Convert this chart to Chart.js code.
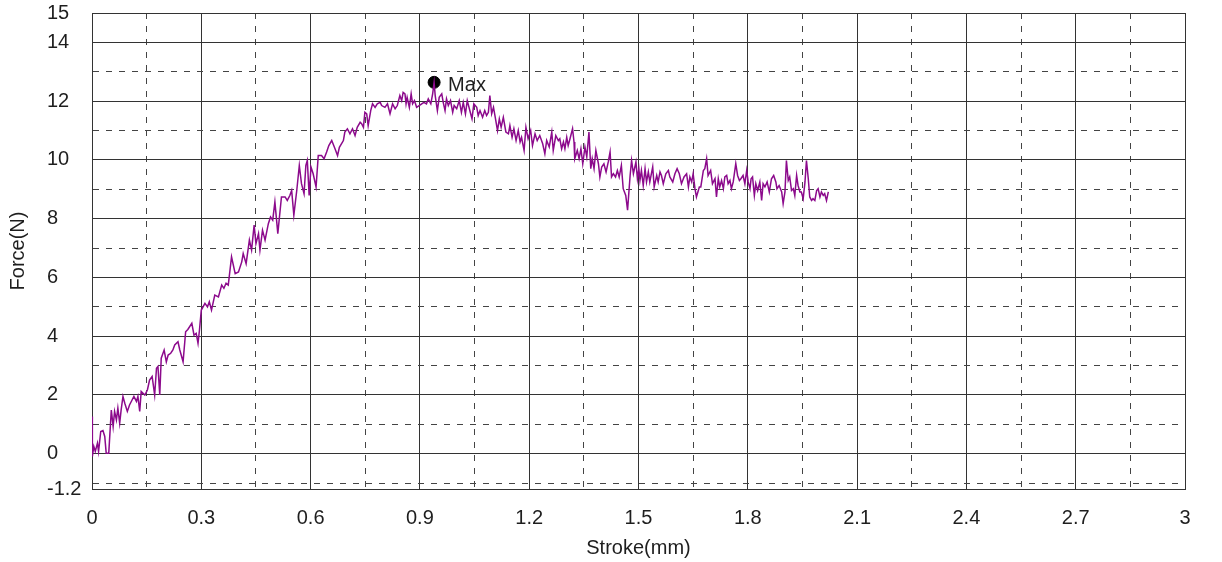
<!DOCTYPE html>
<html>
<head>
<meta charset="utf-8">
<title>Force vs Stroke</title>
<script src="https://cdn.jsdelivr.net/npm/chart.js@4/dist/chart.umd.min.js"></script>
<style>
  html, body { margin: 0; padding: 0; background: #fff; }
  #wrap { width: 1222px; height: 562px; position: relative; }
</style>
</head>
<body>
<div id="wrap"><canvas id="chartForce"></canvas></div>
<script>
const strokeMm = [
  0.000, 0.001, 0.005, 0.009, 0.015, 0.018, 0.024, 0.030, 0.035, 0.039,
  0.046, 0.053, 0.058, 0.062, 0.067, 0.071, 0.076, 0.080, 0.085, 0.090,
  0.097, 0.103, 0.110, 0.115, 0.122, 0.126, 0.131, 0.135, 0.145, 0.152,
  0.158, 0.165, 0.172, 0.177, 0.181, 0.186, 0.190, 0.198, 0.204, 0.209,
  0.216, 0.222, 0.227, 0.236, 0.241, 0.250, 0.257, 0.263, 0.274, 0.280,
  0.286, 0.291, 0.295, 0.300, 0.310, 0.317, 0.322, 0.328, 0.337, 0.347,
  0.356, 0.362, 0.368, 0.374, 0.383, 0.393, 0.402, 0.411, 0.415, 0.423,
  0.432, 0.438, 0.445, 0.450, 0.457, 0.461, 0.468, 0.475, 0.484, 0.490,
  0.496, 0.502, 0.510, 0.520, 0.530, 0.536, 0.543, 0.548, 0.554, 0.562,
  0.569, 0.575, 0.582, 0.587, 0.591, 0.596, 0.601, 0.607, 0.615, 0.621,
  0.630, 0.637, 0.644, 0.650, 0.658, 0.667, 0.674, 0.679, 0.690, 0.694,
  0.701, 0.708, 0.715, 0.722, 0.728, 0.736, 0.740, 0.745, 0.749, 0.754,
  0.758, 0.765, 0.770, 0.777, 0.783, 0.791, 0.795, 0.804, 0.811, 0.818,
  0.825, 0.832, 0.838, 0.845, 0.850, 0.854, 0.859, 0.862, 0.865, 0.871,
  0.876, 0.880, 0.885, 0.891, 0.898, 0.905, 0.911, 0.918, 0.923, 0.930,
  0.935, 0.939, 0.942, 0.948, 0.953, 0.960, 0.964, 0.969, 0.973, 0.978,
  0.984, 0.990, 0.994, 1.001, 1.008, 1.014, 1.019, 1.025, 1.030, 1.037,
  1.043, 1.048, 1.056, 1.060, 1.065, 1.072, 1.078, 1.083, 1.088, 1.092,
  1.097, 1.102, 1.106, 1.113, 1.118, 1.123, 1.129, 1.136, 1.143, 1.147,
  1.153, 1.158, 1.164, 1.170, 1.175, 1.179, 1.186, 1.191, 1.197, 1.204,
  1.209, 1.216, 1.222, 1.229, 1.237, 1.243, 1.248, 1.255, 1.262, 1.266,
  1.273, 1.280, 1.284, 1.289, 1.294, 1.298, 1.303, 1.307, 1.312, 1.319,
  1.323, 1.325, 1.332, 1.337, 1.342, 1.347, 1.353, 1.358, 1.364, 1.369,
  1.373, 1.378, 1.383, 1.390, 1.394, 1.399, 1.405, 1.411, 1.417, 1.422,
  1.426, 1.431, 1.437, 1.442, 1.447, 1.453, 1.458, 1.465, 1.470, 1.477,
  1.481, 1.486, 1.493, 1.497, 1.501, 1.504, 1.508, 1.513, 1.518, 1.522,
  1.527, 1.531, 1.539, 1.543, 1.550, 1.554, 1.559, 1.563, 1.568, 1.575,
  1.582, 1.586, 1.594, 1.600, 1.606, 1.612, 1.618, 1.625, 1.632, 1.637,
  1.641, 1.646, 1.650, 1.655, 1.659, 1.667, 1.671, 1.678, 1.682, 1.687,
  1.691, 1.698, 1.703, 1.710, 1.714, 1.719, 1.723, 1.728, 1.733, 1.737,
  1.742, 1.746, 1.751, 1.755, 1.760, 1.767, 1.772, 1.777, 1.781, 1.787,
  1.792, 1.797, 1.801, 1.806, 1.809, 1.813, 1.818, 1.822, 1.827, 1.833,
  1.838, 1.842, 1.847, 1.853, 1.859, 1.865, 1.871, 1.877, 1.880, 1.886,
  1.893, 1.897, 1.902, 1.906, 1.911, 1.915, 1.920, 1.925, 1.929, 1.934,
  1.938, 1.943, 1.947, 1.952, 1.957, 1.961, 1.966, 1.970, 1.975, 1.979,
  1.984, 1.989, 1.993, 1.998, 2.002, 2.007, 2.011, 2.016, 2.021
];
const forceN = [
  1.27, -0.09, 0.25, 0.08, 0.36, 0.08, 0.76, 0.79, 0.59, 0.02,
  0.02, 1.49, 0.93, 1.44, 1.15, 1.55, 1.04, 1.49, 1.95, 1.72,
  1.44, 1.66, 1.83, 1.95, 1.78, 1.95, 1.44, 2.12, 2.00, 2.17,
  2.51, 2.63, 2.00, 2.91, 2.97, 2.00, 3.25, 3.53, 3.13, 3.36,
  3.42, 3.53, 3.70, 3.81, 3.53, 3.13, 4.15, 4.23, 4.44, 4.04,
  4.10, 3.76, 4.21, 4.89, 5.12, 5.00, 5.17, 4.89, 5.40, 5.34,
  5.74, 5.63, 5.80, 5.74, 6.70, 6.13, 6.19, 6.53, 6.81, 6.47,
  7.27, 6.93, 7.78, 7.15, 7.49, 6.93, 7.61, 7.27, 7.83, 8.06,
  7.95, 8.57, 7.49, 8.74, 8.74, 8.62, 8.79, 8.96, 8.12, 8.96,
  9.81, 9.19, 8.85, 9.81, 9.98, 8.79, 9.76, 9.53, 9.08, 10.15,
  10.15, 10.04, 10.27, 10.49, 10.66, 10.38, 10.15, 10.43, 10.66, 10.95,
  11.06, 10.89, 11.06, 10.83, 11.11, 11.28, 11.23, 11.11, 11.62, 11.57,
  11.17, 11.68, 11.91, 11.79, 11.91, 11.96, 11.85, 11.79, 11.91, 11.57,
  11.91, 11.74, 11.85, 12.19, 12.02, 12.30, 12.25, 11.91, 12.13, 11.79,
  12.25, 11.91, 12.02, 11.79, 11.85, 11.91, 11.96, 11.91, 12.08, 11.91,
  12.25, 12.64, 12.19, 11.68, 12.13, 12.25, 11.96, 11.68, 12.08, 11.85,
  12.02, 11.62, 11.85, 11.74, 12.02, 11.62, 11.96, 11.57, 12.02, 11.68,
  11.40, 11.91, 11.79, 11.51, 11.68, 11.45, 11.68, 11.51, 11.62, 12.19,
  11.57, 11.79, 11.51, 11.00, 11.40, 11.11, 11.45, 10.95, 10.89, 11.17,
  10.77, 11.06, 10.66, 11.00, 10.61, 10.77, 10.32, 11.11, 10.72, 11.00,
  10.49, 10.89, 10.66, 10.83, 10.55, 10.21, 10.66, 10.44, 10.95, 10.32,
  10.83, 10.66, 10.72, 10.38, 10.61, 10.38, 10.77, 10.49, 10.72, 11.06,
  10.61, 10.04, 10.32, 10.04, 10.38, 9.87, 10.44, 10.10, 10.95, 9.70,
  10.04, 9.70, 10.32, 9.87, 9.42, 9.76, 9.87, 9.59, 9.93, 10.27,
  9.42, 9.53, 9.42, 9.64, 9.42, 9.81, 9.02, 8.79, 8.29, 9.47,
  9.98, 9.53, 9.93, 9.36, 9.70, 9.30, 9.64, 9.13, 9.70, 9.25,
  9.59, 9.25, 9.76, 9.08, 9.47, 9.25, 9.59, 9.47, 9.19, 9.53,
  9.64, 9.42, 9.25, 9.53, 9.70, 9.53, 9.19, 9.42, 9.53, 9.08,
  9.42, 9.25, 9.53, 9.02, 8.74, 9.08, 9.08, 9.64, 9.70, 10.04,
  9.47, 9.64, 9.19, 9.36, 8.74, 9.36, 9.08, 9.30, 9.02, 9.42,
  9.47, 9.19, 9.30, 9.02, 9.25, 9.87, 9.47, 9.30, 9.36, 9.47,
  9.19, 9.64, 9.25, 9.02, 9.36, 9.42, 8.79, 9.19, 8.96, 9.25,
  8.62, 9.19, 9.08, 9.25, 8.91, 9.36, 9.47, 9.25, 9.02, 9.13,
  8.91, 8.51, 8.91, 9.98, 9.30, 9.42, 8.96, 9.02, 8.79, 9.47,
  9.13, 8.91, 8.91, 8.68, 9.25, 9.98, 9.36, 8.74, 8.62, 8.68,
  8.62, 8.96, 9.02, 8.74, 8.91, 8.79, 8.85, 8.62, 8.91
];

// axis ticks (grid every 0.15 mm / 1 N, labels on the solid lines)
const xTickValues = [0, 0.15, 0.3, 0.45, 0.6, 0.75, 0.9, 1.05, 1.2, 1.35, 1.5,
  1.65, 1.8, 1.95, 2.1, 2.25, 2.4, 2.55, 2.7, 2.85, 3];
const xTickLabels = ['0', '', '0.3', '', '0.6', '', '0.9', '', '1.2', '', '1.5',
  '', '1.8', '', '2.1', '', '2.4', '', '2.7', '', '3'];
const yTickValues = [-1.2, -1, 0, 1, 2, 3, 4, 5, 6, 7, 8, 9, 10, 11, 12, 13, 14, 15];
const yTickLabels = ['-1.2', '', '0', '', '2', '', '4', '', '6', '', '8', '', '10',
  '', '12', '', '14', '15'];

const FONT = { family: "'Liberation Sans', Arial, sans-serif", size: 20 };
const TEXT = '#1e1e1e';
const SOLID = '#333333';
const DASHED = '#444444';

let iMax = 0;
for (let i = 1; i < forceN.length; i++) if (forceN[i] > forceN[iMax]) iMax = i;

function tickIsDashed(ctx, labels) {
  return !!ctx.tick && labels[ctx.index] === '';
}

const maxLabel = {
  id: 'maxLabel',
  afterDatasetsDraw(chart) {
    const pt = chart.getDatasetMeta(1).data[0];
    if (!pt) return;
    const c = chart.ctx;
    c.save();
    c.font = "20px 'Liberation Sans', Arial, sans-serif";
    c.fillStyle = TEXT;
    c.textAlign = 'left';
    c.textBaseline = 'middle';
    c.fillText('Max', pt.x + 14, pt.y + 3);
    c.restore();
  }
};

const config = {
  type: 'scatter',
  data: {
    datasets: [
      {
        label: 'Force',
        data: strokeMm.map((s, i) => ({ x: s, y: forceN[i] })),
        showLine: true,
        borderColor: '#8c0a8c',
        borderWidth: 1.5,
        pointRadius: 0,
        tension: 0
      },
      {
        label: 'Max',
        data: [{ x: strokeMm[iMax], y: forceN[iMax] }],
        showLine: false,
        pointRadius: 6,
        pointBackgroundColor: '#000',
        pointBorderColor: '#000'
      }
    ]
  },
  options: {
    responsive: true,
    maintainAspectRatio: false,
    animation: false,
    layout: { padding: { top: 13, right: 37, bottom: 0, left: 0 } },
    plugins: {
      legend: { display: false },
      tooltip: { enabled: false },
      title: {
        display: true,
        text: 'Force(N)',
        position: 'left',
        fullSize: false,
        color: TEXT,
        font: { ...FONT, weight: 'normal' },
        padding: { top: 6, bottom: 17 }
      }
    },
    scales: {
      x: {
        type: 'linear',
        min: 0,
        max: 3,
        afterBuildTicks: (scale) => { scale.ticks = xTickValues.map(v => ({ value: v })); },
        afterFit: (scale) => { scale.height = 73; },
        ticks: {
          autoSkip: false,
          maxRotation: 0,
          padding: 17,
          color: TEXT,
          font: FONT,
          callback: (v, i) => xTickLabels[i]
        },
        grid: {
          drawTicks: false,
          color: (ctx) => tickIsDashed(ctx, xTickLabels) ? DASHED : SOLID,
          lineWidth: 1
        },
        border: {
          display: true,
          color: SOLID,
          dash: (ctx) => tickIsDashed(ctx, xTickLabels) ? [6, 7] : []
        },
        title: {
          display: true,
          text: 'Stroke(mm)',
          color: TEXT,
          font: FONT,
          padding: { top: 8, bottom: 2 }
        }
      },
      y: {
        type: 'linear',
        min: -1.2,
        max: 15,
        afterBuildTicks: (scale) => { scale.ticks = yTickValues.map(v => ({ value: v })); },
        afterFit: (scale) => {
          scale.width = 45;
          scale.paddingTop = 0;
          scale.paddingBottom = 0;
        },
        ticks: {
          autoSkip: false,
          crossAlign: 'far',
          color: TEXT,
          font: FONT,
          callback: (v, i) => yTickLabels[i]
        },
        grid: {
          drawTicks: false,
          color: (ctx) => tickIsDashed(ctx, yTickLabels) ? DASHED : SOLID,
          lineWidth: 1
        },
        border: {
          display: true,
          color: SOLID,
          dash: (ctx) => tickIsDashed(ctx, yTickLabels) ? [6, 7] : []
        }
      }
    }
  },
  plugins: [maxLabel]
};

new Chart(document.getElementById('chartForce'), config);
</script>
</body>
</html>
